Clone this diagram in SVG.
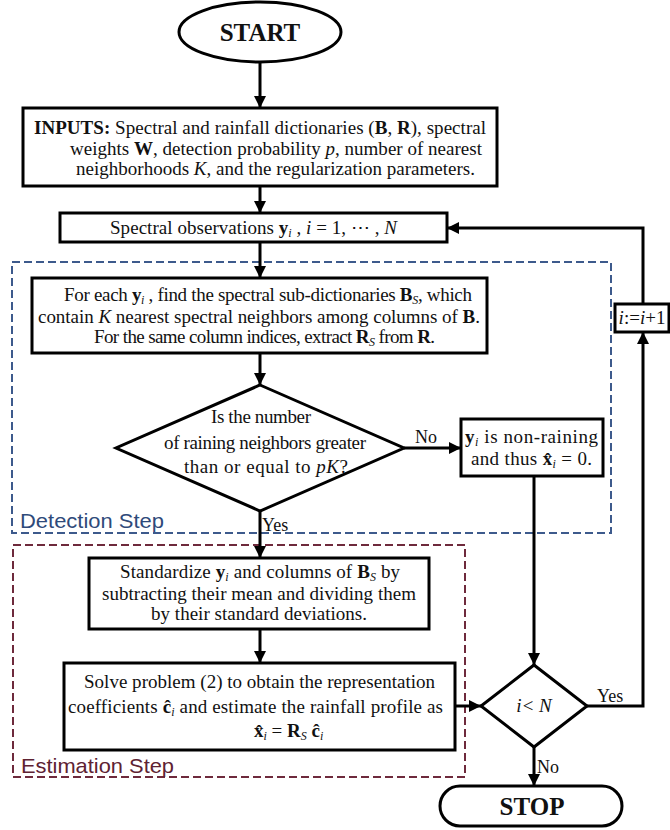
<svg xmlns="http://www.w3.org/2000/svg" width="670" height="830" viewBox="0 0 670 830">
  <defs>
    <marker id="arr" markerUnits="userSpaceOnUse" markerWidth="14" markerHeight="14" refX="12" refY="6" orient="auto">
      <path d="M0,0 L12,6 L0,12 z" fill="#000"/>
    </marker>
    <style>
      .box { fill: #fff; stroke: #000; stroke-width: 3; }
      .t { font-family: "Liberation Serif", "Times New Roman", serif; font-size: 19px; fill: #111; }
      .b { font-weight: bold; }
      .i { font-style: italic; }
      .s { font-style: italic; font-size: 12px; }
      .big { font-family: "Liberation Serif", "Times New Roman", serif; font-size: 25px; font-weight: bold; text-anchor: middle; fill: #111; }
      .con { fill: none; stroke: #000; stroke-width: 3; }
      .lab { font-family: "Liberation Serif", "Times New Roman", serif; font-size: 18px; fill: #111; }
      .step { font-family: "Liberation Sans", Arial, sans-serif; font-size: 21px; }
    </style>
  </defs>
  <rect width="670" height="830" fill="#fff"/>

  <g id="detection-step">
    <rect x="12" y="262" width="599" height="271" fill="none" stroke="#3d5a8c" stroke-width="2" stroke-dasharray="8,4"/>
    <text class="step" x="20" y="528" fill="#2f4a7a" textLength="144" lengthAdjust="spacingAndGlyphs">Detection Step</text>
  </g>
  <g id="estimation-step">
    <rect x="13" y="545" width="452" height="232" fill="none" stroke="#6e2a3c" stroke-width="2" stroke-dasharray="8,4"/>
    <text class="step" x="21" y="773" fill="#5e2232" textLength="153" lengthAdjust="spacingAndGlyphs">Estimation Step</text>
  </g>

  <g id="connectors">
    <line class="con" x1="260" y1="62" x2="260" y2="108" marker-end="url(#arr)"/>
    <line class="con" x1="260" y1="186" x2="260" y2="213" marker-end="url(#arr)"/>
    <line class="con" x1="260" y1="242" x2="260" y2="278" marker-end="url(#arr)"/>
    <line class="con" x1="260" y1="353" x2="260" y2="385" marker-end="url(#arr)"/>
    <line class="con" x1="404" y1="448" x2="461" y2="448" marker-end="url(#arr)"/>
    <text class="lab" x="415" y="443">No</text>
    <line class="con" x1="260" y1="511" x2="260" y2="558" marker-end="url(#arr)"/>
    <text class="lab" x="262" y="531">Yes</text>
    <line class="con" x1="260" y1="629" x2="260" y2="663" marker-end="url(#arr)"/>
    <line class="con" x1="455" y1="706" x2="481" y2="706" marker-end="url(#arr)"/>
    <line class="con" x1="534" y1="476" x2="534" y2="665" marker-end="url(#arr)"/>
    <polyline class="con" points="587,706 643,706 643,332" marker-end="url(#arr)"/>
    <text class="lab" x="597" y="702">Yes</text>
    <polyline class="con" points="643,304 643,228 447,228" marker-end="url(#arr)"/>
    <line class="con" x1="534" y1="747" x2="534" y2="786" marker-end="url(#arr)"/>
    <text class="lab" x="537" y="773">No</text>
  </g>

  <g id="start">
    <ellipse cx="260" cy="32" rx="81" ry="30" fill="#fff" stroke="#000" stroke-width="3"/>
    <text class="big" x="260" y="41">START</text>
  </g>

  <g id="inputs">
    <rect class="box" x="23" y="108" width="474" height="78"/>
    <text class="t" x="34" y="134" textLength="452"><tspan class="b">INPUTS:</tspan> Spectral and rainfall dictionaries (<tspan class="b">B</tspan>, <tspan class="b">R</tspan>), spectral</text>
    <text class="t" x="70" y="155" textLength="412">weights <tspan class="b">W</tspan>, detection probability <tspan class="i">p</tspan>, number of nearest</text>
    <text class="t" x="76" y="175" textLength="399">neighborhoods <tspan class="i">K</tspan>, and the regularization parameters.</text>
  </g>

  <g id="observations">
    <rect class="box" x="60" y="213" width="387" height="29"/>
    <text class="t" x="110" y="234" textLength="287">Spectral observations <tspan class="b">y</tspan><tspan class="s" baseline-shift="-3">i</tspan> , <tspan class="i">i</tspan> = 1, ⋯ , <tspan class="i">N</tspan></text>
  </g>

  <g id="find-subdictionaries">
    <rect class="box" x="32" y="278" width="455" height="75"/>
    <text class="t" x="64" y="301" textLength="408">For each <tspan class="b">y</tspan><tspan class="s" baseline-shift="-3">i</tspan> , find the spectral sub-dictionaries <tspan class="b">B</tspan><tspan class="s" baseline-shift="-3">S</tspan>, which</text>
    <text class="t" x="38" y="323" textLength="442">contain <tspan class="i">K</tspan> nearest spectral neighbors among columns of <tspan class="b">B</tspan>.</text>
    <text class="t" x="94" y="343" textLength="341">For the same column indices, extract <tspan class="b">R</tspan><tspan class="s" baseline-shift="-3">S</tspan> from <tspan class="b">R</tspan>.</text>
  </g>

  <g id="raining-decision">
    <polygon class="box" points="260,385 404,448 260,511 116,448"/>
    <text class="t" x="211" y="423" textLength="100">Is the number</text>
    <text class="t" x="164" y="449" textLength="202">of raining neighbors greater</text>
    <text class="t" x="184" y="473" textLength="164">than or equal to <tspan class="i">pK</tspan>?</text>
  </g>

  <g id="non-raining">
    <rect class="box" x="461" y="419" width="142" height="57"/>
    <text class="t" x="465" y="443" textLength="133"><tspan class="b">y</tspan><tspan class="s" baseline-shift="-3">i</tspan>  is non-raining</text>
    <text class="t" x="471" y="465" textLength="121">and thus <tspan class="b">x̂</tspan><tspan class="s" baseline-shift="-3">i</tspan> = 0.</text>
  </g>

  <g id="standardize">
    <rect class="box" x="89" y="558" width="340" height="71"/>
    <text class="t" x="120" y="578" textLength="280">Standardize <tspan class="b">y</tspan><tspan class="s" baseline-shift="-3">i</tspan> and columns of <tspan class="b">B</tspan><tspan class="s" baseline-shift="-3">S</tspan> by</text>
    <text class="t" x="102" y="600" textLength="314">subtracting their mean and dividing them</text>
    <text class="t" x="151" y="620" textLength="216">by their standard deviations.</text>
  </g>

  <g id="solve">
    <rect class="box" x="64" y="663" width="391" height="87"/>
    <text class="t" x="84" y="688" textLength="351">Solve problem (2) to obtain the representation</text>
    <text class="t" x="68" y="713" textLength="375">coefficients <tspan class="b">ĉ</tspan><tspan class="s" baseline-shift="-3">i</tspan>  and estimate the rainfall profile as</text>
    <text class="t" x="254" y="737"><tspan class="b">x̂</tspan><tspan class="s" baseline-shift="-3">i</tspan> = <tspan class="b">R</tspan><tspan class="s" baseline-shift="-3">S</tspan> <tspan class="b">ĉ</tspan><tspan class="s" baseline-shift="-3">i</tspan></text>
  </g>

  <g id="loop-check">
    <polygon class="box" points="534,665 587,706 534,747 481,706"/>
    <text class="t i" x="534" y="712" text-anchor="middle">i&lt; N</text>
  </g>

  <g id="increment">
    <rect class="box" x="615" y="304" width="54" height="28"/>
    <text class="t" x="642" y="324" font-size="17" text-anchor="middle"><tspan class="i">i</tspan>:=<tspan class="i">i</tspan>+1</text>
  </g>

  <g id="stop">
    <rect x="440" y="786" width="182" height="40" rx="20" ry="20" fill="#fff" stroke="#000" stroke-width="3"/>
    <text class="big" x="532" y="815">STOP</text>
  </g>
</svg>
